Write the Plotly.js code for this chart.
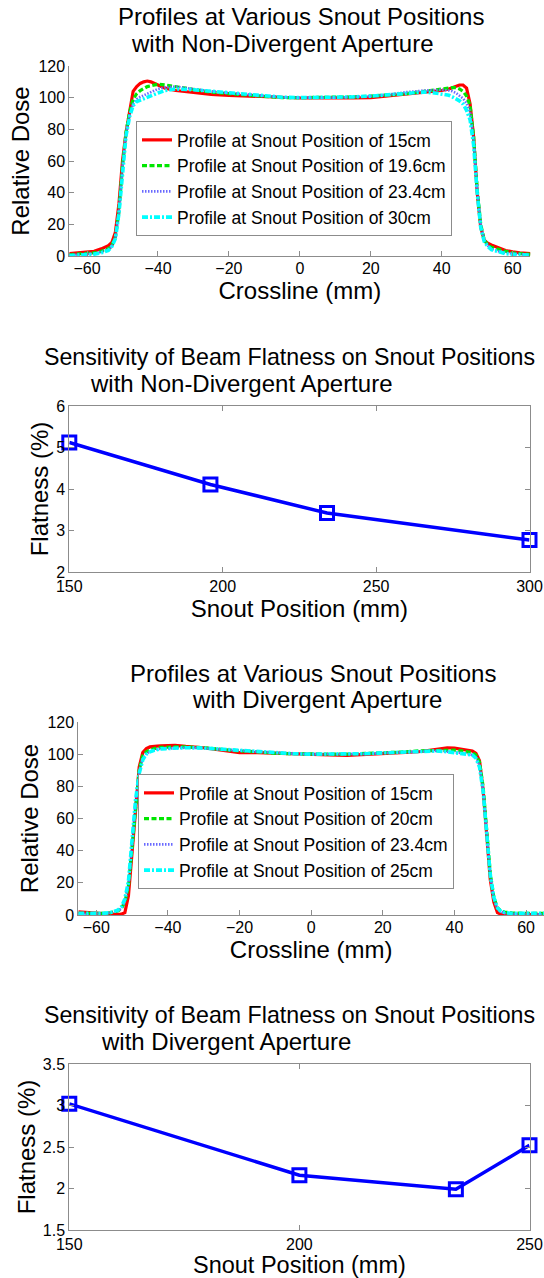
<!DOCTYPE html>
<html>
<head>
<meta charset="utf-8">
<script src="https://cdn.plot.ly/plotly-3.0.1.min.js"></script>
<style>html,body{margin:0;padding:0;background:#fff;}#chart{width:544px;height:1278px;}</style>
</head>
<body>
<div id="chart"></div>
<script>
// ---------- Data ----------
const crossline = [-65,-62,-60,-58,-56,-54,-53,-52,-51,-50,-49,-48,-47,-46,-45,-44,-43,-42,-40,-38,-35,-30,-25,-20,-15,-10,-5,0,5,10,15,20,25,30,35,38,40,42,43,44,45,46,47,48,49,50,51,52,53,54,56,58,60,62,65];

// Panel 1: non-divergent aperture
const nd_15cm  = [1.5,2,2.5,3,4.5,6.5,8.5,15,33,60,78,92,104,107,109,110,110.5,110,108,106,104.5,103,102,101.5,101,100.5,100,99.8,100,99.7,99.8,100,101,102,103,104,104.5,105.5,106.5,107.5,108,108,106,96,75,40,18,10,8,7,5,3.5,2.7,2,1.5];
const nd_196cm = [0.8,1.2,1.5,2,3,4.5,6.5,12,28,57,78,91,99,102.5,104.5,106,107,107.5,108.5,108,107,105,103.5,102.5,101.5,100.5,100,100,100,100,100.5,101,101.5,102.5,104,105,105.5,106,106.3,106.3,105.5,104,101,95,75,42,20,10,7,5.5,4,3,2,1.5,1];
const nd_234cm = [0.5,0.8,1,1.5,2.5,4,6,11,27,56,77,89,96,99,100.5,101.5,102.5,103.5,105.5,106.5,107,105.5,104,103,102,101,100.3,100,100,100,100.5,101,102,103.5,104.5,105,105,104.5,104,103,101.5,99.5,96.5,91,73,42,20,10,6.5,4.5,3,2,1.5,1,0.7];
const nd_30cm  = [0.3,0.5,0.8,1.2,2,3.5,6,11,27,55,76,88,95,97.5,98.5,99.5,100.5,101.3,103,104.5,105.5,105,104,103,102,101,100.3,100,100,100,100.5,101,102,103,103.5,103,102.5,101.5,100.5,99.5,98,96,92,86,70,40,18,9,6,4,2.5,1.5,1,0.7,0.5];

// Panel 3: divergent aperture
const dv_15cm  = [2,1.5,1,0.8,0.5,0.3,0.5,1.5,12,38,68,92,101,103.5,104.5,105,105,105.2,105.3,105.5,104.8,104,102.5,101,101,100.5,100,100,99.5,99.3,100,100.5,101,101.5,103,104,103.8,103,102.7,102.5,102,100.5,96,78,47,22,8,1.5,0.5,0.3,0.3,0.3,0.3,0.3,0.3];
const dv_20cm  = [1,0.8,1,1,1.5,2.5,4,8,18,42,70,90,99,101.5,102.5,103.5,104,104.2,104.5,104.5,104.5,104,103,102,101.5,100.5,100.3,100,100,100,100.3,100.8,101.3,102,102.5,102.5,102.5,102,101.8,101.5,101,99.5,95,80,52,26,11,4.5,2.5,1.8,1.3,1,1,1,1];
const dv_234cm = [0.5,0.6,0.8,1,1.5,2.5,4,8.5,19,43,71,89,97.5,100.5,101.5,102.5,103,103.3,103.5,104,104,103.7,103,102,101.5,100.7,100.3,100,100,100,100.2,100.7,101.2,101.8,102,101.5,101.2,100.8,100.5,100,99.5,98,93,78,50,25,10,4,2,1.2,0.8,0.6,0.5,0.5,0.5];
const dv_25cm  = [1,0.8,0.8,1,1.5,3,5,10,21,45,72,88,96.5,100,101.5,102.3,103,103.3,103.5,103.8,104,103.8,103,102.3,101.5,100.8,100.3,100,100,100,100.3,100.8,101.3,102,102,101.5,101,100.5,100.3,100,99.5,97.5,92,77,50,25,11,4.5,2.2,1.5,1,1,1,1,1];

// Panels 2 and 4: flatness vs snout position
const snoutND = [150, 196, 234, 300];
const flatND  = [5.12, 4.11, 3.42, 2.77];
const snoutDV = [150, 200, 234, 250];
const flatDV  = [3.02, 2.16, 1.99, 2.52];

const labelsND = ['Profile at Snout Position of 15cm','Profile at Snout Position of 19.6cm','Profile at Snout Position of 23.4cm','Profile at Snout Position of 30cm'];
const labelsDV = ['Profile at Snout Position of 15cm','Profile at Snout Position of 20cm','Profile at Snout Position of 23.4cm','Profile at Snout Position of 25cm'];

// ---------- Styling ----------
const W = 544, H = 1278;
const FONT = 'Liberation Sans, Arial, Helvetica, sans-serif';
const px = v => v / W;
const py = v => 1 - v / H;
const styles = [
  {color:'#ff0000', width:3.2, dash:'solid'},
  {color:'#00e600', width:3.2, dash:'5px,2.5px'},
  {color:'#6a6aff', width:2.6, dash:'1.5px,1.5px'},
  {color:'#00ffff', width:3.6, dash:'6px,2px,2px,2px'}
];

const traces = [];
const ndSeries = [nd_15cm, nd_196cm, nd_234cm, nd_30cm];
const dvSeries = [dv_15cm, dv_20cm, dv_234cm, dv_25cm];
const markerStyle = {symbol:'square-open', size:13, color:'#0000ff', line:{width:3, color:'#0000ff'}};
ndSeries.forEach((ys, i) => traces.push({
  x: crossline, y: ys, type:'scatter', mode:'lines', name: labelsND[i],
  line: styles[i], xaxis:'x', yaxis:'y', legend:'legend'
}));
traces.push({x: snoutND, y: flatND, type:'scatter', mode:'lines+markers', showlegend:false,
  line:{color:'#0000ff', width:3.5}, marker:markerStyle, cliponaxis:false, xaxis:'x2', yaxis:'y2'});
dvSeries.forEach((ys, i) => traces.push({
  x: crossline, y: ys, type:'scatter', mode:'lines', name: labelsDV[i],
  line: styles[i], xaxis:'x3', yaxis:'y3', legend:'legend2'
}));
traces.push({x: snoutDV, y: flatDV, type:'scatter', mode:'lines+markers', showlegend:false,
  line:{color:'#0000ff', width:3.5}, marker:markerStyle, cliponaxis:false, xaxis:'x4', yaxis:'y4'});

const axBase = {
  showgrid:false, zeroline:false, showline:true, linecolor:'#8c8c8c', linewidth:1,
  ticks:'inside', ticklen:5, tickcolor:'#8c8c8c', tickfont:{size:16, color:'#000', family:FONT},
  fixedrange:true
};
const ttl = (t, s, f) => ({text:t, font:{size:f || 24, color:'#000', family:FONT}, standoff:s});

const layout = {
  width:W, height:H, margin:{l:0,r:0,t:0,b:0}, paper_bgcolor:'#fff', plot_bgcolor:'#fff',
  font:{family:FONT, color:'#000'},
  xaxis: Object.assign({}, axBase, {domain:[px(69.3), px(530.4)], range:[-65,65], tickvals:[-60,-40,-20,0,20,40,60], anchor:'y', ticklabelstandoff:-2, title:ttl('Crossline (mm)',0)}),
  yaxis: Object.assign({}, axBase, {domain:[py(256), py(66)], range:[0,120], tickvals:[0,20,40,60,80,100,120], anchor:'x', title:ttl('Relative Dose',1)}),
  xaxis2: Object.assign({}, axBase, {domain:[px(69.3), px(529.5)], range:[150,300], tickvals:[150,200,250,300], anchor:'y2', mirror:'ticks', title:ttl('Snout Position (mm)',0)}),
  yaxis2: Object.assign({}, axBase, {domain:[py(572), py(406)], range:[2,6], tickvals:[2,3,4,5,6], anchor:'x2', mirror:'ticks', title:ttl('Flatness (%)',0)}),
  xaxis3: Object.assign({}, axBase, {domain:[px(78.3), 1], range:[-65,65], tickvals:[-60,-40,-20,0,20,40,60], anchor:'y3', ticklabelstandoff:-2, title:ttl('Crossline (mm)',0)}),
  yaxis3: Object.assign({}, axBase, {domain:[py(915), py(722)], range:[0,120], tickvals:[0,20,40,60,80,100,120], anchor:'x3', title:ttl('Relative Dose',1)}),
  xaxis4: Object.assign({}, axBase, {domain:[px(69.3), px(529.5)], range:[150,250], tickvals:[150,200,250], anchor:'y4', mirror:'ticks', title:ttl('Snout Position (mm)',0,23.5)}),
  yaxis4: Object.assign({}, axBase, {domain:[py(1230), py(1064)], range:[1.5,3.5], tickvals:[1.5,2,2.5,3,3.5], ticktext:['1.5','2','2.5','3','3.5'], anchor:'x4', mirror:'ticks', title:ttl('Flatness (%)',0)}),
  legend: {x:px(136), y:py(121), xanchor:'left', yanchor:'top', bgcolor:'#fff', bordercolor:'#8c8c8c', borderwidth:1,
           font:{size:17.5, family:FONT, color:'#000'}, tracegroupgap:0, itemwidth:30},
  legend2: {x:px(138), y:py(774), xanchor:'left', yanchor:'top', bgcolor:'#fff', bordercolor:'#8c8c8c', borderwidth:1,
           font:{size:17.5, family:FONT, color:'#000'}, tracegroupgap:0, itemwidth:30},
  annotations: [
    {text:'Profiles at Various Snout Positions', x:px(116), y:py(17)},
    {text:'with Non-Divergent Aperture', x:px(129), y:py(43)},
    {text:'Sensitivity of Beam Flatness on Snout Positions', x:px(42), y:py(357), font:{size:23.2, family:FONT, color:'#000'}},
    {text:'with Non-Divergent Aperture', x:px(88), y:py(383)},
    {text:'Profiles at Various Snout Positions', x:px(128), y:py(673)},
    {text:'with Divergent Aperture', x:px(190), y:py(699)},
    {text:'Sensitivity of Beam Flatness on Snout Positions', x:px(42), y:py(1015), font:{size:23.2, family:FONT, color:'#000'}},
    {text:'with Divergent Aperture', x:px(99), y:py(1041)}
  ].map(a => Object.assign({xref:'paper', yref:'paper', xanchor:'left', yanchor:'middle', showarrow:false,
      font:{size:24, family:FONT, color:'#000'}}, a))
};

Plotly.newPlot('chart', traces, layout, {displayModeBar:false, staticPlot:true});
</script>
</body>
</html>
